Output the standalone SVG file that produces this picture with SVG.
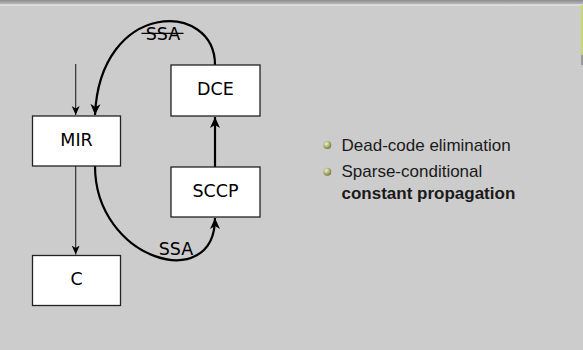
<svg xmlns="http://www.w3.org/2000/svg" width="583" height="350" viewBox="0 0 583 350">
<defs>
<linearGradient id="topbar" x1="0" y1="0" x2="0" y2="1">
<stop offset="0" stop-color="#8c8c8c"/>
<stop offset="1" stop-color="#bdbdbd"/>
</linearGradient>
<radialGradient id="ball" cx="0.38" cy="0.35" r="0.7">
<stop offset="0" stop-color="#eef0c8"/>
<stop offset="0.5" stop-color="#b4b87a"/>
<stop offset="1" stop-color="#6e7240"/>
</radialGradient>
<marker id="thick" markerWidth="12" markerHeight="12" viewBox="0 0 12 12" refX="11" refY="6" orient="auto" markerUnits="userSpaceOnUse">
<path d="M0,1 L11,6 L0,11 L3,6 Z" fill="#000"/>
</marker>
<marker id="thin" markerWidth="10" markerHeight="10" viewBox="0 0 10 10" refX="9" refY="5" orient="auto" markerUnits="userSpaceOnUse">
<path d="M0,1 L9,5 L0,9 L2.5,5 Z" fill="#000"/>
</marker>
<style>
.box{fill:#fff;stroke:#222;stroke-width:1.3}
.lbl{font-family:"DejaVu Sans",sans-serif;font-size:17.5px;fill:#000;text-anchor:middle}
.thin{fill:none;stroke:#222;stroke-width:1.1}
.thick{fill:none;stroke:#000;stroke-width:2.2}
.txt{font-family:"Liberation Sans",Arial,sans-serif;font-size:17px;fill:#1a1a1a}
</style>
</defs>
<rect x="0" y="0" width="583" height="350" fill="#cccccc"/>
<rect x="0" y="0" width="583" height="4.5" fill="url(#topbar)"/>
<rect x="0" y="4.5" width="583" height="1.2" fill="#e6e6e6"/>
<rect x="581" y="5" width="2" height="50" fill="#c8d870"/>
<rect x="581" y="55" width="2" height="10" fill="#9a9a9a"/>

<g id="connectors">
<path class="thin" d="M75.7,64 L75.7,115" marker-end="url(#thin)"/>
<path class="thin" d="M75.7,166 L75.7,254.5" marker-end="url(#thin)"/>
<path class="thick" d="M215,167 L215,117" marker-end="url(#thick)"/>
<path class="thick" d="M215,65 C215,0 100,0 95,115" marker-end="url(#thick)"/>
<path class="thick" d="M95,166 C95,260 215,295 215,218" marker-end="url(#thick)"/>
<text class="lbl" x="163" y="40" font-size="18">SSA</text>
<line x1="141.5" y1="33.3" x2="183.5" y2="33.3" stroke="#000" stroke-width="1.3"/>
<text class="lbl" x="176" y="255" font-size="18">SSA</text>
</g>

<g id="MIR">
<rect class="box" x="32.5" y="116" width="88" height="50"/>
<text class="lbl" x="76.5" y="146">MIR</text>
</g>
<g id="C">
<rect class="box" x="32.5" y="255.5" width="88" height="50"/>
<text class="lbl" x="76.5" y="285">C</text>
</g>
<g id="DCE">
<rect class="box" x="171" y="65" width="89" height="51"/>
<text class="lbl" x="215.5" y="95">DCE</text>
</g>
<g id="SCCP">
<rect class="box" x="171" y="167" width="89" height="50"/>
<text class="lbl" x="215.5" y="197">SCCP</text>
</g>

<g id="bullets">
<circle cx="327.3" cy="145" r="4" fill="url(#ball)"/>
<text class="txt" x="341.5" y="151">Dead-code elimination</text>
<circle cx="327.3" cy="171.7" r="4" fill="url(#ball)"/>
<text class="txt" x="341.5" y="177">Sparse-conditional</text>
<text class="txt" x="341.5" y="199" font-weight="bold">constant propagation</text>
</g>
</svg>
